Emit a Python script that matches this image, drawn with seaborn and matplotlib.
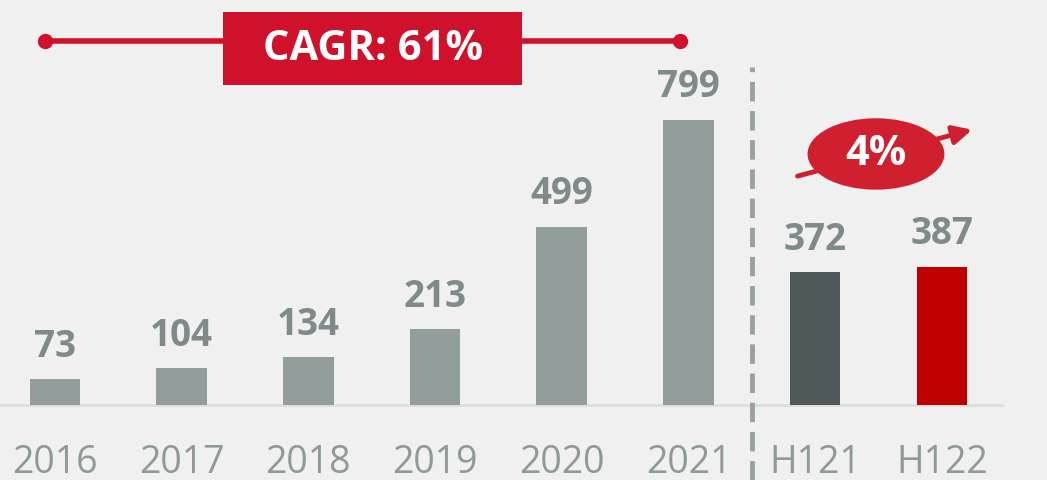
import matplotlib
matplotlib.use("Agg")
import matplotlib.pyplot as plt
from matplotlib.patches import Ellipse, Rectangle
import seaborn as sns
import pandas as pd

# данные
periods = ['2016', '2017', '2018', '2019', '2020', '2021', 'H121', 'H122']
values = [73, 104, 134, 213, 499, 799, 372, 387]
bar_colors = ['#929e9c'] * 6 + ['#4f5859', '#c00000']
cagr_text = 'CAGR: 61%'
growth_text = '4%'

sns.set_theme(style='white')
plt.rcParams['font.family'] = ['Open Sans', 'DejaVu Sans']

df = pd.DataFrame({'period': periods, 'value': values})

fig = plt.figure(figsize=(10.47, 4.81), dpi=100)
fig.patch.set_facecolor('#f0f0f0')
ax = fig.add_axes([0, 0, 1, 1])
ax.set_facecolor('#f0f0f0')

sns.barplot(data=df, x='period', y='value', hue='period', palette=bar_colors,
            width=0.40, legend=False, saturation=1, linewidth=0,
            edgecolor='none', ax=ax)

ax.set_xlim(-0.434, 7.83)
ax.set_ylim(-210, 1137)
ax.set_axis_off()

# базовая линия
ax.plot([-0.434, 7.48], [0, 0], color='#dcdede', lw=2, zorder=0)

# подписи значений
for i, v in enumerate(values):
    ax.annotate(str(v), (i, v), xytext=(0, 24), textcoords='offset points',
                ha='center', va='center', fontsize=26.5, fontweight='bold',
                color='#7f8b8a')

# подписи категорий
for i, p in enumerate(periods):
    ax.text(i, -160, p, ha='center', va='center', fontsize=27, color='#8d9a98')

# пунктирный разделитель
ax.plot([5.5, 5.5], [-210, 947], color='#97a2a0', lw=3.5,
        linestyle=(0, (4, 2)), zorder=1)

# CAGR
ax.plot([-0.08, 4.93], [1020, 1020], color='#d0112b', lw=4, zorder=3,
        marker='o', markersize=10, markevery=[0, 1])
ax.add_patch(Rectangle((1.33, 896), 2.36, 205, facecolor='#d0112b',
                       edgecolor='none', zorder=4))
ax.text(2.51, 998, cagr_text, ha='center', va='center', fontsize=30,
        fontweight='bold', color='white', zorder=5)

# рост H1
ax.annotate('', xy=(7.26, 773), xytext=(5.84, 639),
            arrowprops=dict(arrowstyle='-|>', color='#d01f2f', lw=3.5,
                            mutation_scale=28), zorder=3)
ax.add_patch(Ellipse((6.48, 703), 1.08, 200, facecolor='#d01f2f',
                     edgecolor='none', zorder=4))
ax.text(6.48, 703, growth_text, ha='center', va='center', fontsize=30,
        fontweight='bold', color='white', zorder=5)

fig.savefig('out.png', dpi=100, facecolor=fig.get_facecolor())
